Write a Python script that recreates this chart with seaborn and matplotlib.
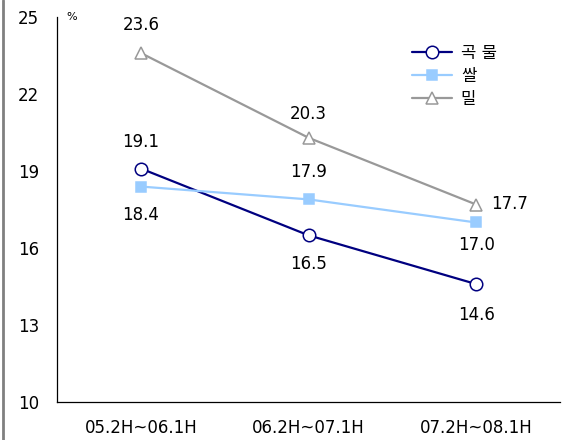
import pandas as pd
import seaborn as sns
import matplotlib.pyplot as plt
from matplotlib.lines import Line2D

# data
periods = ['05.2H~06.1H', '06.2H~07.1H', '07.2H~08.1H']
grain = [19.1, 16.5, 14.6]
rice = [18.4, 17.9, 17.0]
wheat = [23.6, 20.3, 17.7]
series_names = ['곡 물', '쌀', '밀']

df = pd.DataFrame({
    'x': list(range(len(periods))) * 3,
    'value': grain + rice + wheat,
    'series': [n for n in series_names for _ in periods],
})

sns.set_style('white')
plt.rcParams['font.family'] = ['DejaVu Sans', 'Noto Sans CJK KR']
plt.rcParams['text.color'] = 'black'
plt.rcParams['xtick.color'] = 'black'
plt.rcParams['ytick.color'] = 'black'

fig = plt.figure(figsize=(5.72, 4.40), dpi=100)
ax = fig.add_axes([0.100, 0.086, 0.879, 0.875])

colors = {'곡 물': '#000080', '쌀': '#99ccff', '밀': '#999999'}
markers = {'곡 물': 'o', '쌀': 's', '밀': '^'}
face = {'곡 물': 'white', '쌀': '#99ccff', '밀': 'white'}
sizes = {'곡 물': 9, '쌀': 7.5, '밀': 9}

for name in series_names:
    sub = df[df['series'] == name]
    sns.lineplot(data=sub, x='x', y='value', ax=ax, color=colors[name], lw=1.6,
                 marker=markers[name], markersize=sizes[name],
                 markerfacecolor=face[name], markeredgecolor=colors[name],
                 markeredgewidth=1.1, label=name)

# value labels: (dx, dy) offsets in pixels from the marker, y up
fs = 12
px = 0.72
offsets = {
    '밀': [(0, 28), (0, 24), (0, 0)],
    '곡 물': [(0, 27), (0, -29), (0, -31)],
    '쌀': [(0, -28), (0, 27), (0, -23)],
}
values = {'곡 물': grain, '쌀': rice, '밀': wheat}
for name in series_names:
    for i, v in enumerate(values[name]):
        dx, dy = offsets[name][i]
        if name == '밀' and i == 2:
            ax.annotate(f'{v:.1f}', (i, v), xytext=(15 * px, 1 * px), textcoords='offset points',
                        ha='left', va='center', fontsize=fs)
        else:
            ax.annotate(f'{v:.1f}', (i, v), xytext=(dx * px, dy * px), textcoords='offset points',
                        ha='center', va='center', fontsize=fs)

ax.set_xlim(-0.5, 2.5)
ax.set_ylim(10, 25)
ax.set_yticks([10, 13, 16, 19, 22, 25])
ax.set_xticks([-0.5, 0.5, 1.5, 2.5])
ax.set_xticklabels([])
ax.set_xticks(range(len(periods)), minor=True)
ax.set_xticklabels(periods, minor=True)
ax.tick_params(axis='x', which='major', direction='out', length=5, width=0.8, color='black')
ax.tick_params(axis='x', which='minor', length=0, pad=12, labelsize=12)
ax.tick_params(axis='y', direction='in', length=5, width=0.8, color='black', pad=13, labelsize=12)

for s in ['top', 'right']:
    ax.spines[s].set_visible(False)
for s in ['left', 'bottom']:
    ax.spines[s].set_color('black')
    ax.spines[s].set_linewidth(0.9)

ax.set_xlabel('')
ax.set_ylabel('')
ax.text(0.018, 1.0, '%', transform=ax.transAxes, fontsize=8, va='center', ha='left')

leg = ax.legend(loc='upper left', bbox_to_anchor=(0.69, 0.952), frameon=False,
                fontsize=12, handlelength=2.4, handletextpad=0.5, labelspacing=0.3, borderpad=0)

# gray border on the left edge
fig.add_artist(Line2D([0.005, 0.005], [0, 1], color='#808080', lw=2, transform=fig.transFigure))

fig.savefig('out.png', dpi=100)
